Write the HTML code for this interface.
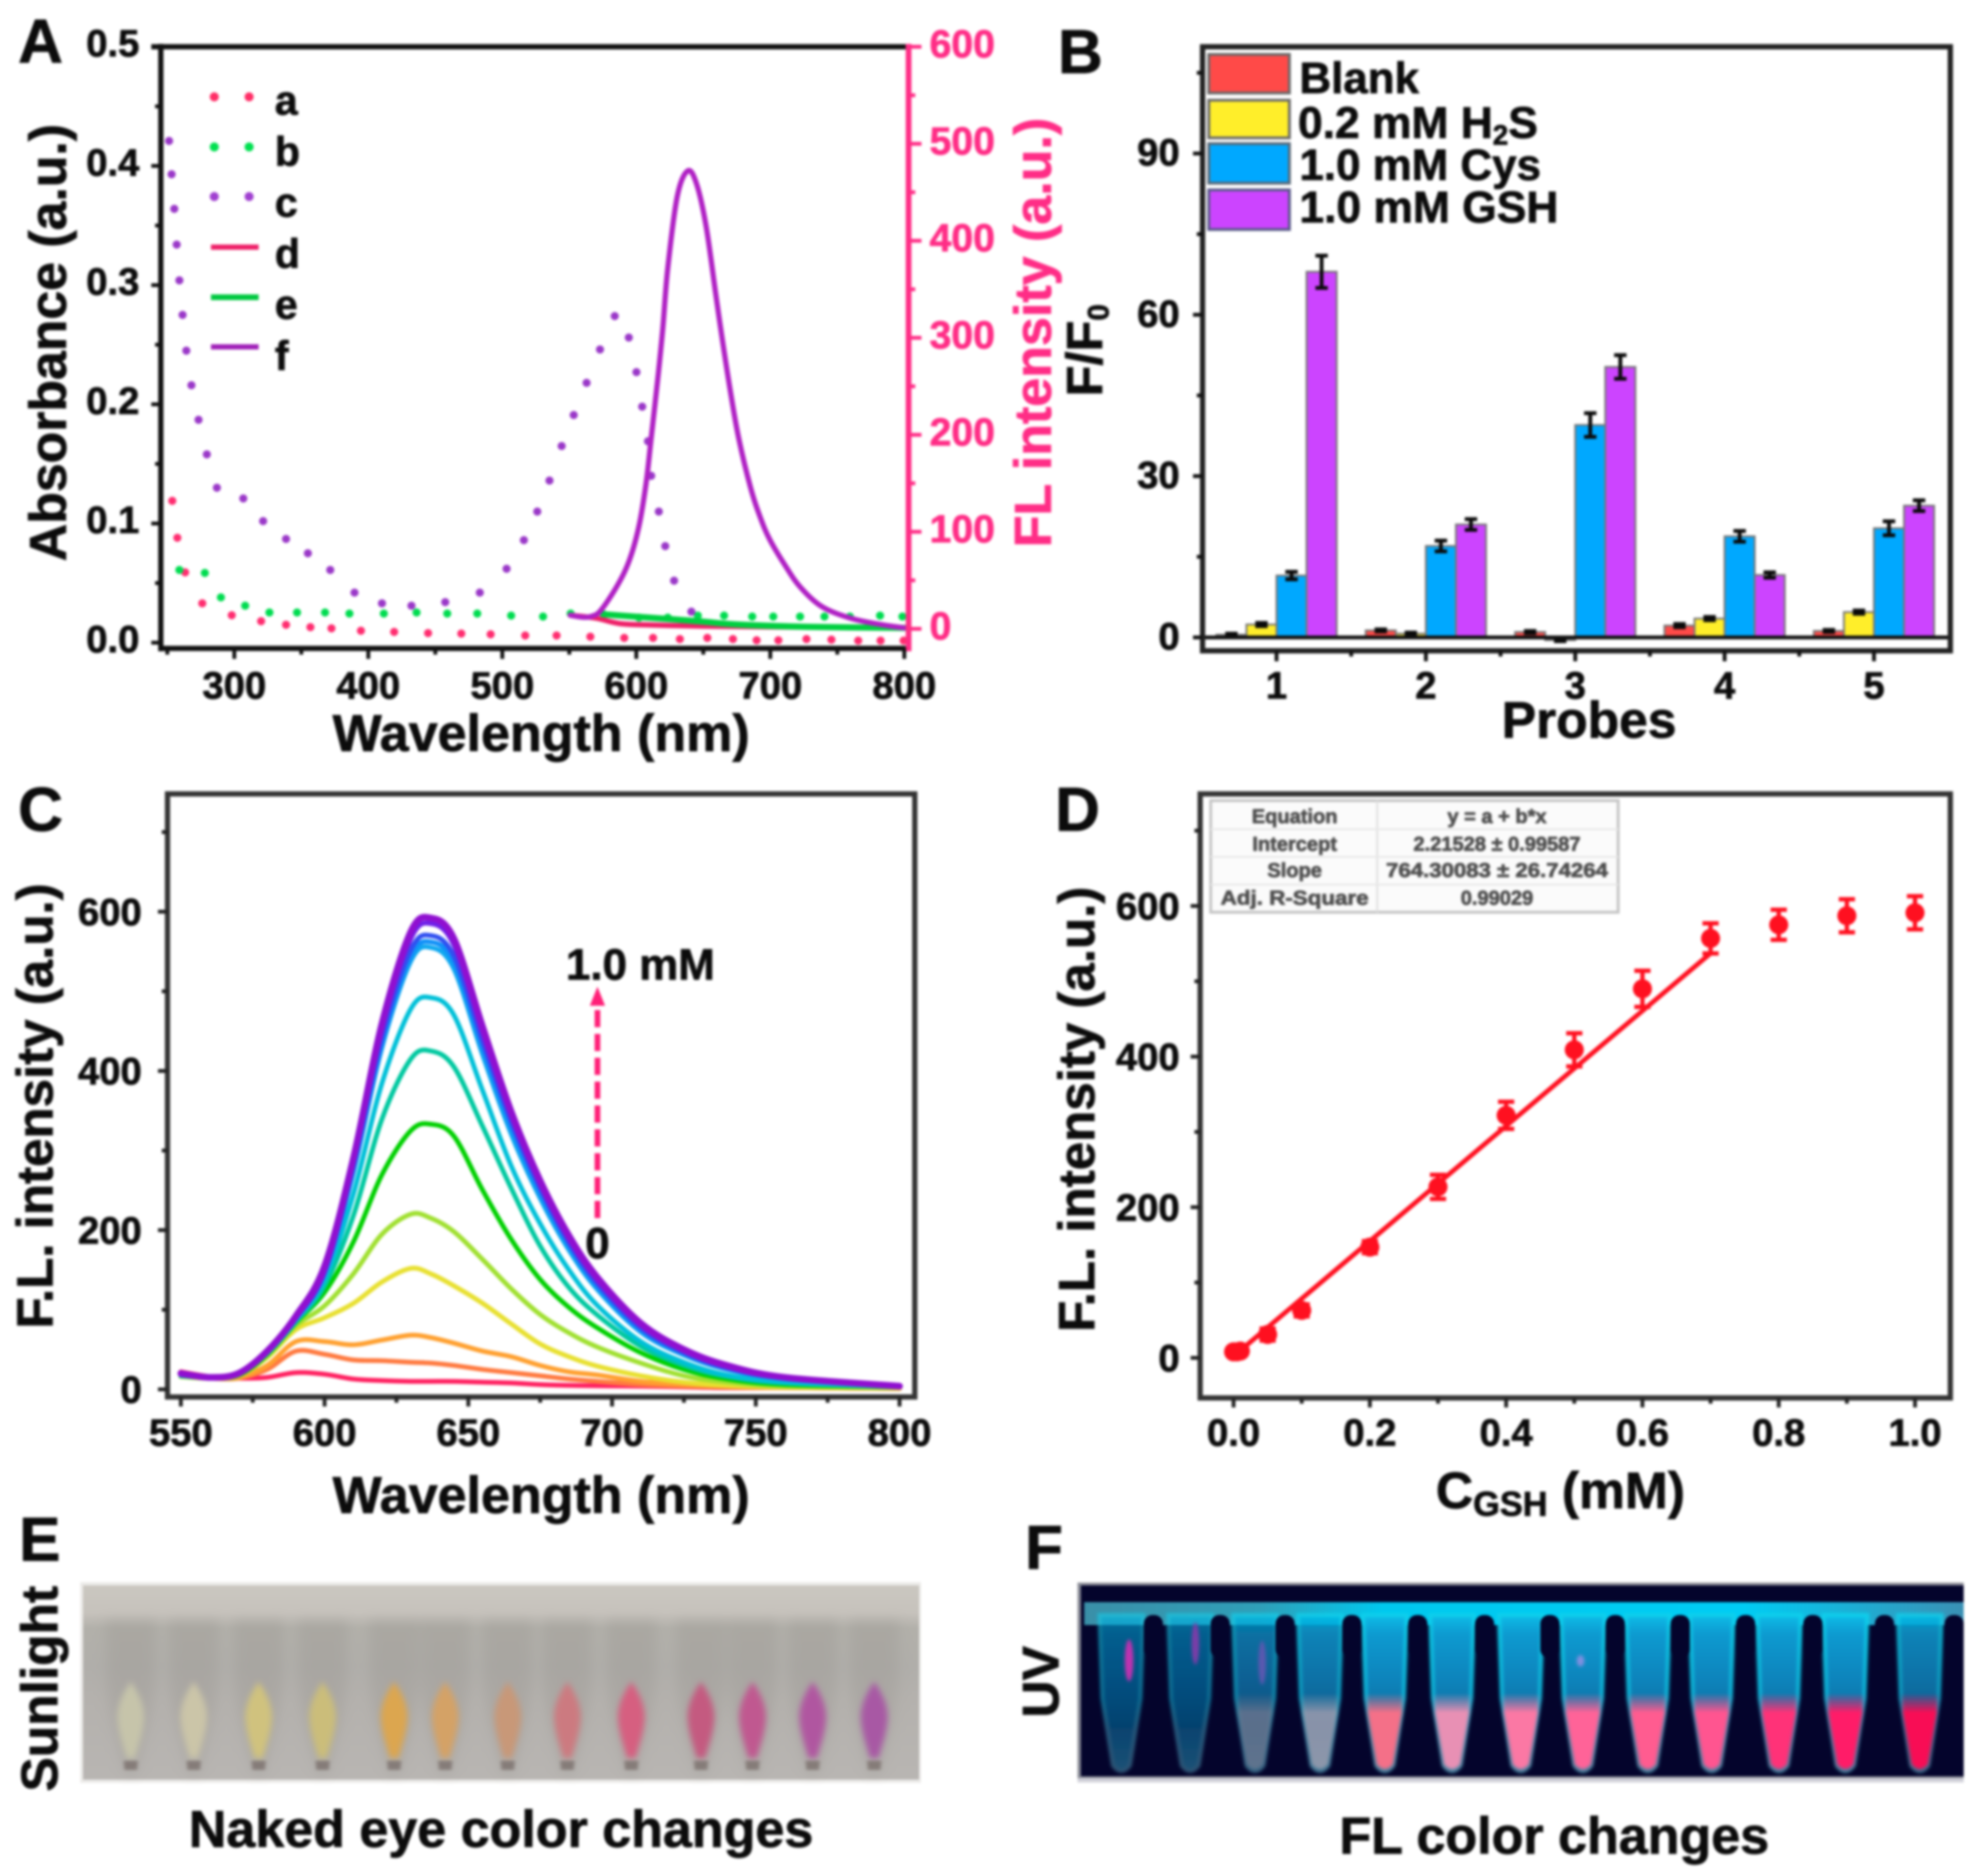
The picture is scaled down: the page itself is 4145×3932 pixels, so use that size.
<!DOCTYPE html>
<html lang="en">
<head>
<meta charset="utf-8">
<title>GSH probe characterisation figure</title>
<style>
html,body{margin:0;padding:0;background:#fff;width:4145px;height:3932px;overflow:hidden}
#figure{display:block;filter:blur(2.6px)}
text{font-family:"Liberation Sans",Arial,sans-serif;font-weight:bold;fill:#0c0c0c;stroke:#0c0c0c;stroke-width:1.5}
</style>
</head>
<body>
<svg id="figure" xmlns="http://www.w3.org/2000/svg" width="4145" height="3932" viewBox="0 0 4145 3932">
<defs>
<filter id="soft12" x="-15%" y="-15%" width="130%" height="130%"><feGaussianBlur stdDeviation="12"/></filter>
<filter id="soft6" x="-10%" y="-10%" width="120%" height="120%"><feGaussianBlur stdDeviation="6"/></filter>
<filter id="soft3" x="-5%" y="-5%" width="110%" height="110%"><feGaussianBlur stdDeviation="3"/></filter>
<linearGradient id="ePhoto" x1="0" y1="0" x2="0" y2="1">
<stop offset="0" stop-color="#cac7c0"/><stop offset=".14" stop-color="#c6c2bc"/><stop offset=".22" stop-color="#b2b0aa"/><stop offset=".42" stop-color="#b0aeaa"/><stop offset=".58" stop-color="#b4b1ad"/><stop offset="1" stop-color="#b8b5b2"/>
</linearGradient>
<linearGradient id="fBand" x1="0" y1="0" x2="1" y2="0">
<stop offset="0" stop-color="#3a8fa8"/><stop offset=".2" stop-color="#2f9fb8"/><stop offset=".34" stop-color="#00c8ee"/><stop offset=".75" stop-color="#00ccf4"/><stop offset="1" stop-color="#3a90b4"/>
</linearGradient>
<linearGradient id="fTube" gradientUnits="userSpaceOnUse" x1="0" y1="3385" x2="0" y2="3718">
<stop offset="0" stop-color="#06bce8"/><stop offset=".12" stop-color="#0a9ad0"/><stop offset=".4" stop-color="#0a84bc"/><stop offset=".7" stop-color="#0a6c9c"/><stop offset="1" stop-color="#2c88a8"/>
</linearGradient>
<linearGradient id="fEdge" gradientUnits="userSpaceOnUse" x1="0" y1="3385" x2="0" y2="3718">
<stop offset="0" stop-color="#10d0ec"/><stop offset=".5" stop-color="#10b8dc"/><stop offset=".72" stop-color="#3a90b0"/><stop offset="1" stop-color="#4a88a4"/>
</linearGradient>
<linearGradient id="fFade" gradientUnits="userSpaceOnUse" x1="0" y1="3548" x2="0" y2="3590">
<stop offset="0" stop-color="#000"/><stop offset="1" stop-color="#fff"/>
</linearGradient>
<mask id="fLiquidMask" maskUnits="userSpaceOnUse" x="2260" y="3319" width="1855" height="412"><rect x="2260" y="3319" width="1855" height="412" fill="url(#fFade)"/></mask>
<path id="eTube" d="M-52,3395 L52,3395 L50,3530 C44,3610 20,3670 12,3720 L-12,3720 C-20,3670 -44,3610 -50,3530Z"/>
<path id="eLiquid" d="M0,3525 C-18,3550 -28,3575 -28,3600 C-26,3635 -15,3660 -9,3685 L9,3685 C15,3660 26,3635 28,3600 C28,3575 18,3550 0,3525Z"/>
<path id="eTip" d="M-15,3690 L15,3690 L13,3710 L-13,3710Z"/>
<path id="fTubeShape" d="M-46,3385 L46,3385 L40,3560 L18,3700 Q0,3724 -18,3700 L-40,3560Z"/>
<path id="fLiquid" d="M-39,3548 L39,3548 L36,3590 L17,3698 Q0,3718 -17,3698 L-36,3590Z"/>
<rect id="fGap" x="-20" y="3385" width="40" height="90" rx="18"/>
</defs>
<rect x="0" y="0" width="4145" height="3932" fill="#fff"/>

<!-- panel letters -->
<text x="38" y="131" font-size="130">A</text>
<text x="2217" y="153" font-size="130">B</text>
<text x="38" y="1741" font-size="130">C</text>
<text x="2211" y="1741" font-size="130">D</text>
<text x="40" y="3271" font-size="130">E</text>
<text x="2148" y="3288" font-size="130">F</text>

<!-- panel A -->
<g id="panelA">
<g id="aMarks"></g>
<line x1="337" y1="92" x2="337" y2="1365" stroke="#111" stroke-width="11"/>
<line x1="317" y1="98" x2="1904" y2="98" stroke="#111" stroke-width="11"/>
<line x1="337" y1="1359" x2="1904" y2="1359" stroke="#111" stroke-width="11"/>
<line x1="1904" y1="92" x2="1904" y2="1365" stroke="#ff2d86" stroke-width="12"/>
<g id="aAxes"></g>
<text transform="translate(138,718) rotate(-90)" text-anchor="middle" font-size="108.5">Absorbance (a.u.)</text>
<text transform="translate(2202,697) rotate(-90)" text-anchor="middle" font-size="109" style="fill:#ff2d86;stroke:#ff2d86">FL intensity (a.u.)</text>
<text x="1134" y="1574" text-anchor="middle" font-size="109">Wavelength (nm)</text>
<g>
<circle cx="449" cy="203" r="9.5" fill="#ff2d66"/><circle cx="522" cy="203" r="9.5" fill="#ff2d66"/>
<circle cx="449" cy="308" r="9.5" fill="#00e050"/><circle cx="522" cy="308" r="9.5" fill="#00e050"/>
<circle cx="449" cy="412" r="9.5" fill="#a040d0"/><circle cx="522" cy="412" r="9.5" fill="#a040d0"/>
<line x1="442" y1="518" x2="542" y2="518" stroke="#ee2068" stroke-width="11"/>
<line x1="442" y1="623" x2="542" y2="623" stroke="#00c840" stroke-width="12"/>
<line x1="442" y1="727" x2="542" y2="727" stroke="#a020b8" stroke-width="11"/>
<text x="576" y="240" font-size="86">a</text>
<text x="576" y="347" font-size="86">b</text>
<text x="576" y="454" font-size="86">c</text>
<text x="576" y="561" font-size="86">d</text>
<text x="576" y="668" font-size="86">e</text>
<text x="576" y="775" font-size="86">f</text>
</g>
</g>

<!-- panel B -->
<g id="panelB">
<g id="bMarks"></g>
<line x1="2520" y1="1336" x2="4087" y2="1336" stroke="#111" stroke-width="8"/>
<rect x="2520" y="98" width="1567" height="1266" fill="none" stroke="#222" stroke-width="11"/>
<g id="bAxes"></g>
<text transform="translate(2309,831) rotate(-90)" font-size="106">F/F<tspan font-size="62" dy="14">0</tspan></text>
<text x="3330" y="1546" text-anchor="middle" font-size="108">Probes</text>
<g>
<rect x="2533" y="114" width="169" height="81" fill="#ff4a48" stroke="#6a6a6a" stroke-width="6"/>
<rect x="2533" y="210" width="169" height="79" fill="#ffee2a" stroke="#6a6a6a" stroke-width="6"/>
<rect x="2533" y="301" width="169" height="83" fill="#00a8ff" stroke="#5a6a7a" stroke-width="6"/>
<rect x="2533" y="398" width="169" height="83" fill="#cc44ff" stroke="#5a5a8a" stroke-width="6"/>
<text x="2723" y="195" font-size="92">Blank</text>
<text x="2720" y="289" font-size="93">0.2 mM H<tspan font-size="58" dy="14">2</tspan><tspan dy="-14">S</tspan></text>
<text x="2723" y="377" font-size="92">1.0 mM Cys</text>
<text x="2723" y="466" font-size="93">1.0 mM GSH</text>
</g>
</g>

<!-- panel C -->
<g id="panelC">
<g id="cMarks"></g>
<rect x="351" y="1664" width="1566" height="1264" fill="none" stroke="#333" stroke-width="11"/>
<g id="cAxes"></g>
<text transform="translate(110,2318) rotate(-90)" text-anchor="middle" font-size="107">F.L. intensity (a.u.)</text>
<text x="1134" y="3171" text-anchor="middle" font-size="109">Wavelength (nm)</text>
<line x1="1252" y1="2553" x2="1252" y2="2100" stroke="#ff2078" stroke-width="12" stroke-dasharray="36 14"/>
<path d="M1252,2068 L1268,2108 L1236,2108Z" fill="#ff2078"/>
<text x="1186" y="2053" font-size="92">1.0 mM</text>
<text x="1252" y="2637" text-anchor="middle" font-size="92">0</text>
</g>

<!-- panel D -->
<g id="panelD">
<g id="dMarks"></g>
<rect x="2515" y="1664" width="1572" height="1266" fill="none" stroke="#333" stroke-width="11"/>
<g id="dAxes"></g>
<text transform="translate(2293,2325) rotate(-90)" text-anchor="middle" font-size="107">F.L. intensity (a.u.)</text>
<text x="3270" y="3161" text-anchor="middle" font-size="108">C<tspan font-size="72" dy="16">GSH</tspan><tspan dy="-16"> (mM)</tspan></text>
<g>
<rect x="2537" y="1678" width="854" height="234" fill="#fbfbfb" stroke="#c4c4c4" stroke-width="6"/>
<line x1="2886" y1="1678" x2="2886" y2="1912" stroke="#e0e0e0" stroke-width="4"/>
<line x1="2537" y1="1738" x2="3391" y2="1738" stroke="#e8e8e8" stroke-width="4"/>
<line x1="2537" y1="1796" x2="3391" y2="1796" stroke="#e8e8e8" stroke-width="4"/>
<line x1="2537" y1="1854" x2="3391" y2="1854" stroke="#e8e8e8" stroke-width="4"/>
<g font-size="42" text-anchor="middle" style="opacity:.72">
<text x="2713" y="1725">Equation</text>
<text x="3137" y="1725">y = a + b*x</text>
<text x="2713" y="1783">Intercept</text>
<text x="3137" y="1783">2.21528 ± 0.99587</text>
<text x="2713" y="1838">Slope</text>
<text x="3137" y="1838" textLength="465" lengthAdjust="spacingAndGlyphs">764.30083 ± 26.74264</text>
<text x="2713" y="1896" textLength="310" lengthAdjust="spacingAndGlyphs">Adj. R-Square</text>
<text x="3137" y="1896">0.99029</text>
</g>
</g>
</g>

<!-- panel E -->
<g>
<rect x="168" y="3316" width="1762" height="421" fill="#ecebe9"/>
<rect x="174" y="3323" width="1752" height="407" fill="url(#ePhoto)"/>
<g fill="#98948f" opacity=".3" filter="url(#soft12)">
<use href="#eTube" x="274"/><use href="#eTube" x="406"/><use href="#eTube" x="542"/><use href="#eTube" x="676"/><use href="#eTube" x="826"/><use href="#eTube" x="933"/><use href="#eTube" x="1064"/><use href="#eTube" x="1189"/><use href="#eTube" x="1323"/><use href="#eTube" x="1469"/><use href="#eTube" x="1577"/><use href="#eTube" x="1703"/><use href="#eTube" x="1832"/>
</g>
<g filter="url(#soft6)">
<use href="#eLiquid" x="274" fill="#c6c4aa"/><use href="#eLiquid" x="406" fill="#cbc5a8"/><use href="#eLiquid" x="542" fill="#d0c27e"/><use href="#eLiquid" x="676" fill="#cbbd7a"/><use href="#eLiquid" x="826" fill="#dca650"/><use href="#eLiquid" x="933" fill="#d4a266"/><use href="#eLiquid" x="1064" fill="#c89878"/><use href="#eLiquid" x="1189" fill="#cc7a80"/><use href="#eLiquid" x="1323" fill="#d65e80"/><use href="#eLiquid" x="1469" fill="#c45a80"/><use href="#eLiquid" x="1577" fill="#c05890"/><use href="#eLiquid" x="1703" fill="#b056a0"/><use href="#eLiquid" x="1832" fill="#a858a4"/>
</g>
<g fill="#857c78" filter="url(#soft3)">
<use href="#eTip" x="274"/><use href="#eTip" x="406"/><use href="#eTip" x="542"/><use href="#eTip" x="676"/><use href="#eTip" x="826"/><use href="#eTip" x="933"/><use href="#eTip" x="1064"/><use href="#eTip" x="1189"/><use href="#eTip" x="1323"/><use href="#eTip" x="1469"/><use href="#eTip" x="1577"/><use href="#eTip" x="1703"/><use href="#eTip" x="1832"/>
</g>
<text transform="translate(120,3755) rotate(-90)" font-size="108" textLength="431" lengthAdjust="spacingAndGlyphs">Sunlight</text>
<text x="1050" y="3871" text-anchor="middle" font-size="109">Naked eye color changes</text>
</g>

<!-- panel F -->
<g>
<rect x="2258" y="3317" width="1857" height="418" fill="#8c8e98"/>
<rect x="2258" y="3727" width="1857" height="9" fill="#d2d2da"/>
<rect x="2265" y="3323" width="1850" height="400" fill="#04042c"/>
<rect x="2272" y="3358" width="1843" height="48" fill="url(#fBand)"/>
<g fill="url(#fTube)" stroke="url(#fEdge)" stroke-width="8" filter="url(#soft3)">
<use href="#fTubeShape" x="2350" opacity=".6"/><use href="#fTubeShape" x="2494" opacity=".6"/><use href="#fTubeShape" x="2630" opacity=".72"/><use href="#fTubeShape" x="2766" opacity=".85"/><use href="#fTubeShape" x="2902"/><use href="#fTubeShape" x="3043"/><use href="#fTubeShape" x="3187"/><use href="#fTubeShape" x="3317"/><use href="#fTubeShape" x="3453"/><use href="#fTubeShape" x="3587"/><use href="#fTubeShape" x="3728"/><use href="#fTubeShape" x="3867"/><use href="#fTubeShape" x="4023" opacity=".85"/>
</g>
<g fill="#04042c">
<use href="#fGap" x="2417"/><use href="#fGap" x="2557"/><use href="#fGap" x="2693"/><use href="#fGap" x="2833"/><use href="#fGap" x="2971"/><use href="#fGap" x="3111"/><use href="#fGap" x="3248"/><use href="#fGap" x="3385"/><use href="#fGap" x="3521"/><use href="#fGap" x="3658"/><use href="#fGap" x="3799"/><use href="#fGap" x="3949"/><use href="#fGap" x="4095"/>
</g>
<g mask="url(#fLiquidMask)" filter="url(#soft3)">
<use href="#fLiquid" x="2630" fill="#7c7c92" opacity=".7"/><use href="#fLiquid" x="2766" fill="#a8a0b0" opacity=".8"/><use href="#fLiquid" x="2902" fill="#f47088"/><use href="#fLiquid" x="3043" fill="#e890b4"/><use href="#fLiquid" x="3187" fill="#fb78a4"/><use href="#fLiquid" x="3317" fill="#ff6498"/><use href="#fLiquid" x="3453" fill="#ff5c90"/><use href="#fLiquid" x="3587" fill="#ff5490"/><use href="#fLiquid" x="3728" fill="#ff3078"/><use href="#fLiquid" x="3867" fill="#ff1c68"/><use href="#fLiquid" x="4023" fill="#f80c54"/>
</g>
<g filter="url(#soft3)">
<ellipse cx="2366" cy="3480" rx="9" ry="44" fill="#c030b0"/>
<ellipse cx="2505" cy="3445" rx="8" ry="44" fill="#7a3ca8"/>
<ellipse cx="2645" cy="3485" rx="8" ry="46" fill="#5a58b0"/>
<ellipse cx="3312" cy="3481" rx="8" ry="12" fill="#8090e0"/>
</g>
<text transform="translate(2218,3600) rotate(-90)" font-size="108">UV</text>
<text x="3257" y="3885" text-anchor="middle" font-size="109">FL color changes</text>
</g>
</svg>

<script>
/* ---------- Panel A data ---------- */
const aWavelengthsA = [253.7,257.5,263.3,276.1,298.1,320,338.6,356.8,372.5,394.5,419.3,444.6,469.4,491.3,517.1,540.5,565.7,591,612.5,632.5,653,672.1,689.8,706,727,745.6,765.6,782.3,799.5];
const aAbsorbanceA = [.119,.088,.059,.033,.023,.018,.015,.013,.012,.010,.009,.008,.0076,.007,.006,.006,.005,.004,.004,.003,.004,.003,.002,.002,.003,.0025,.0017,.0017,.0017];
const aWavelengthsB = [259,278,290,308.1,326.2,346.8,367.7,385.9,411.6,436,458.9,481.3,506.6,530.4,551,575.8,602,623.5,645.9,665.5,686.5,702.2,722.2,740.4,759.4,781.9,798.6];
const aAbsorbanceB = [.061,.0585,.038,.031,.0253,.0253,.0253,.0244,.0244,.0253,.0244,.0244,.0227,.0219,.0244,.0236,.021,.021,.0227,.0227,.0219,.0219,.0219,.0219,.0219,.0227,.0219];
const aWavelengthsC = [251.3,253.2,255.2,257,259,261.4,264.2,268,273.3,279.5,287,306.7,321.5,338.6,354.9,371.6,389.7,410.2,432.2,457.4,483.2,503.2,516.1,526.1,535.2,544.3,553.3,562.9,572.9,583.9,594.4,600.1,604.4,608.7,611.1,616.8,621.6,628.2,641.1];
const aAbsorbanceC = [.421,.393,.364,.334,.304,.275,.245,.216,.187,.158,.130,.121,.102,.087,.075,.061,.042,.033,.031,.034,.042,.062,.086,.110,.136,.165,.191,.218,.246,.274,.256,.227,.198,.169,.140,.110,.081,.052,.026];
const aWavelengthsD = [550.7,570,587.7,610,640.8,660,700,750,800];
const aIntensityD = [14,11,5.4,4,3,2.6,2,1.5,1];
const aWavelengthsE = [575,600,625,649.7,676,729,800];
const aIntensityE = [15,12.5,10,7.4,4.4,2,1];
const aWavelengthsF = [550.7,560,566.7,573.5,586,594.9,602,607.3,610.9,616.2,619.8,623.5,630.6,638.3,644.9,652.1,659.3,664,670.2,676.5,685.4,692.5,699.6,711.7,722.4,738.4,759.8,782.5,800];
const aIntensityF = [14,12,13,19,45,71,106,150,194,260,310,372,446,472,459,415,345,300,245,196,145,115,92,64,43,23,11,4.4,1];
const aLeftTicks = [0,0.1,0.2,0.3,0.4,0.5];
const aLeftTickLabels = ["0.0","0.1","0.2","0.3","0.4","0.5"];
const aLeftMinor = [0.05,0.15,0.25,0.35,0.45];
const aRightTicks = [0,100,200,300,400,500,600];
const aRightMinor = [50,150,250,350,450,550];
const aBottomTicks = [300,400,500,600,700,800];
const aBottomMinor = [250,350,450,550,650,750];

/* ---------- Panel B data ---------- */
const bProbes = [1,2,3,4,5];
const bBlank = [0.5,1.3,1,2.2,1.2];
const bH2S = [2.4,0.7,-0.5,3.5,4.7];
const bCys = [11.5,17,39.5,18.8,20.3];
const bGSH = [68,21,50.3,11.6,24.5];
const bBlankErr = [0.2,0.2,0.2,0.3,0.2];
const bH2SErr = [0.3,0.2,0.2,0.3,0.3];
const bCysErr = [0.7,1,2.2,1,1.3];
const bGSHErr = [3,1,2.2,0.5,1];
const bLeftTicks = [0,30,60,90];
const bLeftMinor = [15,45,75,105];
const bBottomMinor = [1.5,2.5,3.5,4.5];

/* ---------- Panel C data ---------- */
const cWavelengths = [550,560,570,580,590,600,610,620,630,637,645,655,665,675,685,695,710,725,740,760,800];
const cCurve01 = [22,16,14,15,21,19,13,11,10,10,10,9,8,6,5,4.5,4,3,2,2,1];
const cCurve02 = [16,14,14,25,48,44,37,36,34,33,30,25,21,17,13,10,6,4,3,2,1];
const cCurve03 = [16,14,15,30,60,60,56,62,68,65,58,48,41,30,22,18,10,6,3,2,1];
const cCurve04 = [16,14,17,40,75,90,108,135,152,145,130,108,82,57,41,29,17,9,5,3,2];
const cCurve05 = [16,14,17,42,80,105,145,195,220,215,198,163,126,94,71,53,33,17,9,4,2];
const cCurve06 = [17,15,18,44,84,122,185,270,325,333,318,250,188,138,103,77,46,25,13,6,3];
const cCurve07 = [17,15,19,45,85,130,218,340,415,425,405,330,252,180,128,93,54,30,16,8,3];
const cCurve08 = [18,15,19,46,87,138,245,385,478,492,470,375,280,208,150,105,60,34,18,9,4];
const cCurve09 = [18,15,20,46,88,145,272,430,538,555,528,420,320,240,175,125,72,43,25,13,4];
const cCurve10 = [18,15,20,47,88,146,276,435,544,562,536,428,328,246,180,128,74,45,26,13,4];
const cCurve11 = [18,15,20,47,89,147,280,442,552,570,544,436,335,252,184,132,77,46,27,14,4];
const cCurve12 = [19,15,20,47,90,148,285,452,566,585,558,446,342,257,188,136,80,48,28,14,4];
const cCurve13 = [20,15,20,48,92,155,290,460,575,592,566,455,348,262,193,140,83,50,30,15,4];
const cSeriesList = [cCurve01,cCurve02,cCurve03,cCurve04,cCurve05,cCurve06,cCurve07,cCurve08,cCurve09,cCurve10,cCurve11,cCurve12,cCurve13];
const cColors = ["#ff2060","#ff7a40","#ffa030","#e8e030","#a0e030","#00d000","#00c8a0","#00c0d8","#10a8f0","#1090f8","#3050f0","#7020e8","#9010d0"];
const cBottomTicks = [550,600,650,700,750,800];
const cBottomMinor = [575,625,675,725,775];
const cLeftTicks = [0,200,400,600];
const cLeftMinor = [100,300,500,700];

/* ---------- Panel D data ---------- */
const dConcentration = [0,0.005,0.01,0.05,0.1,0.2,0.3,0.4,0.5,0.6,0.7,0.8,0.9,1.0];
const dIntensity = [8,8,9,31,63,147,227,322,409,490,557,575,587,591];
const dError = [3,3,3,8,8,8,16,18,22,24,20,20,22,22];
const dFitX = [0,0.7];
const dFitY = [2.2,537.2];
const dBottomTicks = [0,0.2,0.4,0.6,0.8,1.0];
const dBottomTickLabels = ["0.0","0.2","0.4","0.6","0.8","1.0"];
const dBottomMinor = [0.1,0.3,0.5,0.7,0.9];
const dLeftTicks = [0,200,400,600];
const dLeftMinor = [100,300,500,700];

/* ---------- axis functions ---------- */
const xA = v => 491 + (v - 300) * 2.808;
const yA = v => 1347 - v * 2498;
const yAr = v => 1318 - v * 2.0333;
const xB = v => 2675 + (v - 1) * 313;
const yB = v => 1336 - v * 11.27;
const xC = v => 379 + (v - 550) * 6.024;
const yC = v => 2912 - v * 1.6685;
const xD = v => 2585 + v * 1428;
const yD = v => 2846 - v * 1.5785;

const SVG_NS = 'http://www.w3.org/2000/svg';
function mk(tag, attrs, parent) {
  const e = document.createElementNS(SVG_NS, tag);
  for (const k in attrs) e.setAttribute(k, attrs[k]);
  parent.appendChild(e);
  return e;
}
function smoothPath(pts) {
  let d = 'M' + pts[0][0] + ',' + pts[0][1];
  for (let i = 0; i < pts.length - 1; i++) {
    const p0 = pts[Math.max(i - 1, 0)], p1 = pts[i], p2 = pts[i + 1], p3 = pts[Math.min(i + 2, pts.length - 1)];
    const c1x = p1[0] + (p2[0] - p0[0]) / 6, c1y = p1[1] + (p2[1] - p0[1]) / 6;
    const c2x = p2[0] - (p3[0] - p1[0]) / 6, c2y = p2[1] - (p3[1] - p1[1]) / 6;
    d += ' C' + c1x + ',' + c1y + ' ' + c2x + ',' + c2y + ' ' + p2[0] + ',' + p2[1];
  }
  return d;
}
function tick(g, x1, y1, x2, y2, color) {
  const t = mk('line', {x1: x1, y1: y1, x2: x2, y2: y2, stroke: color, 'stroke-width': 8}, g);
  
  
}
function tickLabel(g, x, y, str, anchor, color, size) {
  const t = mk('text', {x: x, y: y, 'text-anchor': anchor, 'font-size': size}, g);
  t.textContent = str;
  if (color) { t.style.fill = color; t.style.stroke = color; }
  
  
}
function drawLine(g, xs, ys, xf, yf, color, width, name) {
  const pts = xs.map((x, i) => [xf(x), yf(ys[i])]);
  const p = mk('path', {d: smoothPath(pts), fill: 'none', stroke: color, 'stroke-width': width, 'stroke-linejoin': 'round', 'stroke-linecap': 'round'}, g);
  
  
}
function drawDots(g, xs, ys, color, name) {
  xs.forEach((x, i) => {
    const c = mk('circle', {cx: xA(x), cy: yA(ys[i]), r: 8.5, fill: color}, g);
    
    
  });
}

/* ---------- Panel A ---------- */
const aMarks = document.getElementById('aMarks');
drawDots(aMarks, aWavelengthsA, aAbsorbanceA, '#ff2d70', 'series-a-point');
drawDots(aMarks, aWavelengthsB, aAbsorbanceB, '#00dc50', 'series-b-point');
drawDots(aMarks, aWavelengthsC, aAbsorbanceC, '#9a38c8', 'series-c-point');
drawLine(aMarks, aWavelengthsD, aIntensityD, xA, yAr, '#ee2068', 11, 'series-d-line');
drawLine(aMarks, aWavelengthsE, aIntensityE, xA, yAr, '#00d040', 13, 'series-e-line');
drawLine(aMarks, aWavelengthsF, aIntensityF, xA, yAr, '#b020c4', 11, 'series-f-line');
const aAxes = document.getElementById('aAxes');
aLeftTicks.forEach((v, i) => { tick(aAxes, 317, yA(v), 337, yA(v), '#111'); tickLabel(aAxes, 292, yA(v) + 20, aLeftTickLabels[i], 'end', null, 80); });
aLeftMinor.forEach(v => tick(aAxes, 325, yA(v), 337, yA(v), '#111'));
aRightTicks.forEach(v => { tick(aAxes, 1904, yAr(v), 1931, yAr(v), '#ff2d86'); tickLabel(aAxes, 1948, yAr(v) + 22, String(v), 'start', '#ff2d86', 82); });
aRightMinor.forEach(v => tick(aAxes, 1904, yAr(v), 1918, yAr(v), '#ff2d86'));
aBottomTicks.forEach(v => { tick(aAxes, xA(v), 1359, xA(v), 1381, '#111'); tickLabel(aAxes, xA(v), 1464, String(v), 'middle', null, 80); });
aBottomMinor.forEach(v => tick(aAxes, xA(v), 1359, xA(v), 1372, '#111'));

/* ---------- Panel B ---------- */
const bMarks = document.getElementById('bMarks');
const bSeries = [bBlank, bH2S, bCys, bGSH];
const bErrors = [bBlankErr, bH2SErr, bCysErr, bGSHErr];
const bFills = ['#ff4a48', '#ffee2a', '#00a8ff', '#cc44ff'];
const bBarWidth = 63;
bSeries.forEach((vals, s) => {
  vals.forEach((v, i) => {
    const left = xB(bProbes[i]) + (s - 2) * bBarWidth;
    const top = yB(Math.max(v, 0));
    const r = mk('rect', {x: left, y: top, width: bBarWidth, height: Math.abs(yB(v) - yB(0)), fill: bFills[s], stroke: '#777', 'stroke-width': 4}, bMarks);
    
    
    const cx = left + bBarWidth / 2, hi = yB(v + bErrors[s][i]), lo = yB(v - bErrors[s][i]);
    const e = mk('path', {d: 'M' + cx + ',' + hi + ' V' + lo + ' M' + (cx - 13) + ',' + hi + ' H' + (cx + 13) + ' M' + (cx - 13) + ',' + lo + ' H' + (cx + 13), stroke: '#0a0a0a', 'stroke-width': 8, fill: 'none'}, bMarks);
    
    
  });
});
const bAxes = document.getElementById('bAxes');
bLeftTicks.forEach(v => { tick(bAxes, 2500, yB(v), 2520, yB(v), '#111'); tickLabel(bAxes, 2472, yB(v) + 25, String(v), 'end', null, 80); });
bLeftMinor.forEach(v => tick(bAxes, 2508, yB(v), 2520, yB(v), '#111'));
bProbes.forEach(v => { tick(bAxes, xB(v), 1364, xB(v), 1386, '#111'); tickLabel(bAxes, xB(v), 1464, String(v), 'middle', null, 80); });
bBottomMinor.forEach(v => tick(bAxes, xB(v), 1364, xB(v), 1376, '#111'));

/* ---------- Panel C ---------- */
const cMarks = document.getElementById('cMarks');
cSeriesList.forEach((vals, i) => {
  drawLine(cMarks, cWavelengths, vals, xC, yC, cColors[i], i === 12 ? 14 : 10, 'emission-curve');
});
const cAxes = document.getElementById('cAxes');
cLeftTicks.forEach(v => { tick(cAxes, 331, yC(v), 351, yC(v), '#222'); tickLabel(cAxes, 297, yC(v) + 28, String(v), 'end', null, 80); });
cLeftMinor.forEach(v => tick(cAxes, 339, yC(v), 351, yC(v), '#222'));
cBottomTicks.forEach(v => { tick(cAxes, xC(v), 2928, xC(v), 2948, '#222'); tickLabel(cAxes, xC(v), 3030, String(v), 'middle', null, 80); });
cBottomMinor.forEach(v => tick(cAxes, xC(v), 2928, xC(v), 2940, '#222'));

/* ---------- Panel D ---------- */
const dMarks = document.getElementById('dMarks');
const fitLine = mk('line', {x1: xD(dFitX[0]), y1: yD(dFitY[0]), x2: xD(dFitX[1]), y2: yD(dFitY[1]), stroke: '#ff1020', 'stroke-width': 10}, dMarks);


dConcentration.forEach((c, i) => {
  const cx = xD(c), cy = yD(dIntensity[i]), hi = yD(dIntensity[i] + dError[i]), lo = yD(dIntensity[i] - dError[i]);
  const e = mk('path', {d: 'M' + cx + ',' + hi + ' V' + lo + ' M' + (cx - 17) + ',' + hi + ' H' + (cx + 17) + ' M' + (cx - 17) + ',' + lo + ' H' + (cx + 17), stroke: '#ff1020', 'stroke-width': 9, fill: 'none'}, dMarks);
  
  
  const p = mk('circle', {cx: cx, cy: cy, r: 20, fill: '#ff1020'}, dMarks);
  
  
});
const dAxes = document.getElementById('dAxes');
dLeftTicks.forEach(v => { tick(dAxes, 2495, yD(v), 2515, yD(v), '#222'); tickLabel(dAxes, 2472, yD(v) + 28, String(v), 'end', null, 80); });
dLeftMinor.forEach(v => tick(dAxes, 2503, yD(v), 2515, yD(v), '#222'));
dBottomTicks.forEach((v, i) => { tick(dAxes, xD(v), 2930, xD(v), 2950, '#222'); tickLabel(dAxes, xD(v), 3030, dBottomTickLabels[i], 'middle', null, 80); });
dBottomMinor.forEach(v => tick(dAxes, xD(v), 2930, xD(v), 2942, '#222'));
</script>
</body>
</html>
